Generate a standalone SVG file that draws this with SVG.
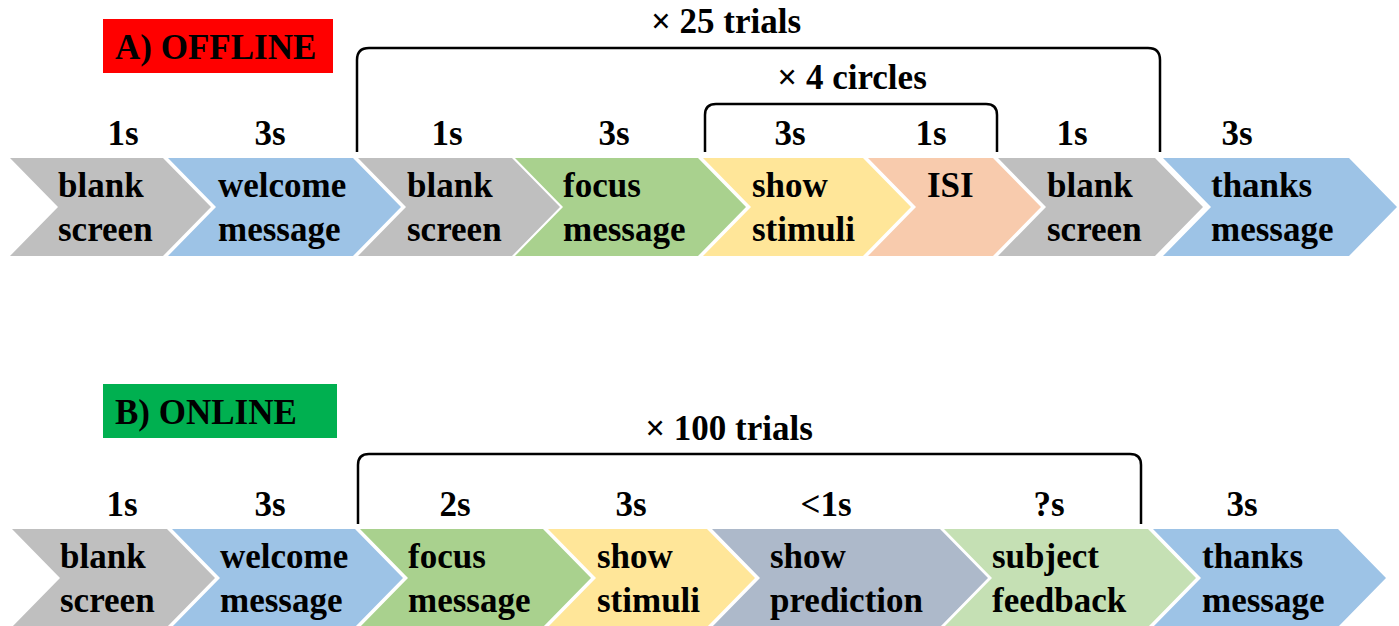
<svg xmlns="http://www.w3.org/2000/svg" width="1399" height="626" viewBox="0 0 1399 626">
<style>
text{font-family:"Liberation Serif","Times New Roman",serif;font-weight:bold;font-size:35px;fill:#000}
.d{text-anchor:middle}
.br{fill:none;stroke:#000;stroke-width:2.5}
.gray{fill:#BFBFBF}.blue{fill:#9DC3E6}.green{fill:#A9D18E}.yellow{fill:#FFE699}.peach{fill:#F8CBAD}.slate{fill:#ADB9CA}.lgreen{fill:#C5E0B4}
</style>
<rect width="1399" height="626" fill="#fff"/>
<g id="headerA"><rect x="103" y="19" width="230" height="54" fill="#FF0000"/><text x="115" y="59">A) OFFLINE</text></g>
<g id="headerB"><rect x="103" y="384" width="234" height="54" fill="#00B050"/><text x="115" y="424">B) ONLINE</text></g>

<g id="connectors">
<path class="br" d="M357,152 V60 Q357,48 369,48 H1148 Q1160,48 1160,60 V152"/>
<path class="br" d="M705,152 V115 Q705,104 716,104 H986 Q997,104 997,115 V152"/>
<path class="br" d="M358,524 V465 Q358,454 369,454 H1130 Q1141,454 1141,465 V524"/>
</g>
<g id="loopLabels">
<text class="d" x="726" y="33">× 25 trials</text>
<text class="d" x="852" y="89">× 4 circles</text>
<text class="d" x="729" y="440">× 100 trials</text>
</g>

<g id="a1"><polygon class="gray" points="10,158 163,158 211,207 163,256 10,256 58,207"/><text x="58" y="197">blank</text><text x="58" y="241">screen</text><text class="d" x="123" y="145">1s</text></g>
<g id="a2"><polygon class="blue" points="168,158 353,158 401,207 353,256 168,256 216,207"/><text x="218" y="197">welcome</text><text x="218" y="241">message</text><text class="d" x="270" y="145">3s</text></g>
<g id="a3"><polygon class="gray" points="358,158 512,158 560,207 512,256 358,256 406,207"/><text x="407" y="197">blank</text><text x="407" y="241">screen</text><text class="d" x="447" y="145">1s</text></g>
<g id="a4"><polygon class="green" points="515,158 698,158 746,207 698,256 515,256 563,207"/><text x="563" y="197">focus</text><text x="563" y="241">message</text><text class="d" x="614" y="145">3s</text></g>
<g id="a5"><polygon class="yellow" points="703,158 863,158 911,207 863,256 703,256 751,207"/><text x="752" y="197">show</text><text x="752" y="241">stimuli</text><text class="d" x="790" y="145">3s</text></g>
<g id="a6"><polygon class="peach" points="868,158 993,158 1041,207 993,256 868,256 916,207"/><text x="927" y="197">ISI</text><text class="d" x="931" y="145">1s</text></g>
<g id="a7"><polygon class="gray" points="998,158 1155,158 1203,207 1155,256 998,256 1046,207"/><text x="1047" y="197">blank</text><text x="1047" y="241">screen</text><text class="d" x="1072" y="145">1s</text></g>
<g id="a8"><polygon class="blue" points="1163,158 1349,158 1397,207 1349,256 1163,256 1211,207"/><text x="1211" y="197">thanks</text><text x="1211" y="241">message</text><text class="d" x="1237" y="145">3s</text></g>

<g id="b1"><polygon class="gray" points="12,529 167,529 215,578 167,627 12,627 60,578"/><text x="60" y="568">blank</text><text x="60" y="612">screen</text><text class="d" x="122" y="516">1s</text></g>
<g id="b2"><polygon class="blue" points="172,529 355,529 403,578 355,627 172,627 220,578"/><text x="220" y="568">welcome</text><text x="220" y="612">message</text><text class="d" x="270" y="516">3s</text></g>
<g id="b3"><polygon class="green" points="360,529 543,529 591,578 543,627 360,627 408,578"/><text x="408" y="568">focus</text><text x="408" y="612">message</text><text class="d" x="455" y="516">2s</text></g>
<g id="b4"><polygon class="yellow" points="548,529 707,529 755,578 707,627 548,627 596,578"/><text x="597" y="568">show</text><text x="597" y="612">stimuli</text><text class="d" x="631" y="516">3s</text></g>
<g id="b5"><polygon class="slate" points="712,529 940,529 988,578 940,627 712,627 760,578"/><text x="770" y="568">show</text><text x="770" y="612">prediction</text><text class="d" x="826" y="516">&lt;1s</text></g>
<g id="b6"><polygon class="lgreen" points="944,529 1148,529 1196,578 1148,627 944,627 992,578"/><text x="992" y="568">subject</text><text x="992" y="612">feedback</text><text class="d" x="1049" y="516">?s</text></g>
<g id="b7"><polygon class="blue" points="1153,529 1338,529 1386,578 1338,627 1153,627 1201,578"/><text x="1202" y="568">thanks</text><text x="1202" y="612">message</text><text class="d" x="1242" y="516">3s</text></g>
</svg>
